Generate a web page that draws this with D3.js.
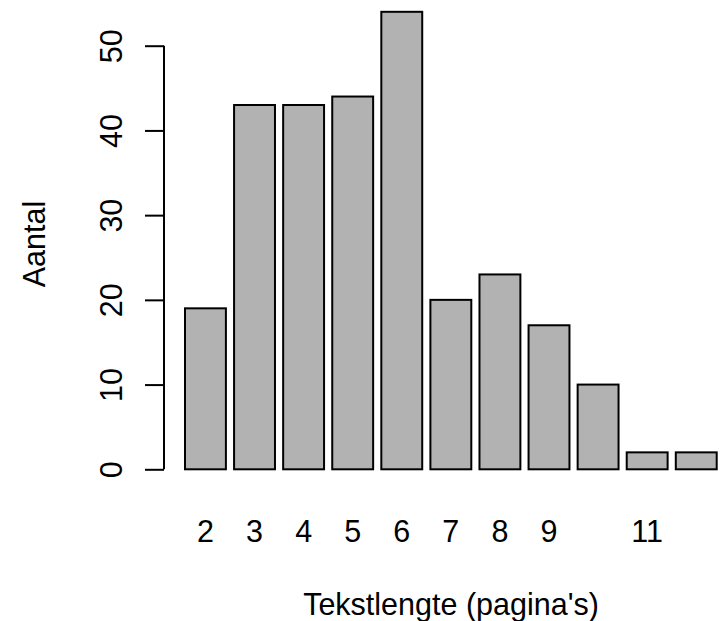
<!DOCTYPE html>
<html>
<head>
<meta charset="utf-8">
<script src="https://cdn.jsdelivr.net/npm/d3@7"></script>
<style>
  body { margin: 0; background: #fff; }
  svg text { font-family: 'Liberation Sans', Arial, sans-serif; fill: #000; }
</style>
</head>
<body>
<svg id="chart" width="720" height="621"></svg>
<script>
// Tekstlengte data
const categories = ['2', '3', '4', '5', '6', '7', '8', '9', '10', '11', '12']
const counts = [19, 43, 43, 44, 54, 20, 23, 17, 10, 2, 2]
// R drops overlapping names, so 10 and 12 are not shown
const tickLabels = ['2', '3', '4', '5', '6', '7', '8', '9', '', '11', '']
const yTicks = [0, 10, 20, 30, 40, 50]

const FONT_SIZE = 30.5
const svg = d3.select('#chart')

const x = d3.scaleBand()
  .domain(categories)
  .range([185, 716.7])
  .paddingInner(1 / 6)
  .paddingOuter(0)

const y = d3.scaleLinear()
  .domain([0, 50])
  .range([469.3, 45.7])

// bars
svg.append('g')
  .selectAll('rect')
  .data(counts)
  .enter()
  .append('rect')
  .attr('x', (d, i) => x(categories[i]))
  .attr('y', (d) => y(d))
  .attr('width', x.bandwidth())
  .attr('height', (d) => y(0) - y(d))
  .attr('fill', '#b2b2b2')
  .attr('stroke', '#000')
  .attr('stroke-width', 2)

// y axis
const yAxis = d3.axisLeft(y)
  .tickValues(yTicks)
  .tickSize(19)
  .tickPadding(0)
  .tickFormat(d3.format('d'))

const gy = svg.append('g')
  .attr('transform', 'translate(164,0)')
  .call(yAxis)

gy.select('.domain')
  .attr('d', 'M0,' + y(0) + 'V' + y(50))
  .attr('stroke', '#000')
  .attr('stroke-width', 2)
gy.selectAll('.tick line').attr('stroke', '#000').attr('stroke-width', 2)
gy.selectAll('.tick text')
  .attr('x', 0)
  .attr('y', 0)
  .attr('transform', 'translate(-42,0) rotate(-90)')
  .attr('text-anchor', 'middle')
  .attr('dy', 0)
  .style('font-size', FONT_SIZE + 'px')
  .style('font-family', "'Liberation Sans', Arial, sans-serif")
  .attr('fill', '#000')

// x labels
svg.append('g')
  .selectAll('text')
  .data(tickLabels)
  .enter()
  .append('text')
  .attr('x', (d, i) => x(categories[i]) + x.bandwidth() / 2)
  .attr('y', 542)
  .attr('text-anchor', 'middle')
  .style('font-size', FONT_SIZE + 'px')
  .text((d) => d)

// axis titles
svg.append('text')
  .attr('x', 451)
  .attr('y', 615)
  .attr('text-anchor', 'middle')
  .style('font-size', FONT_SIZE + 'px')
  .text("Tekstlengte (pagina's)")

svg.append('text')
  .attr('transform', 'translate(45,244) rotate(-90)')
  .attr('text-anchor', 'middle')
  .style('font-size', FONT_SIZE + 'px')
  .text('Aantal')
</script>
</body>
</html>
